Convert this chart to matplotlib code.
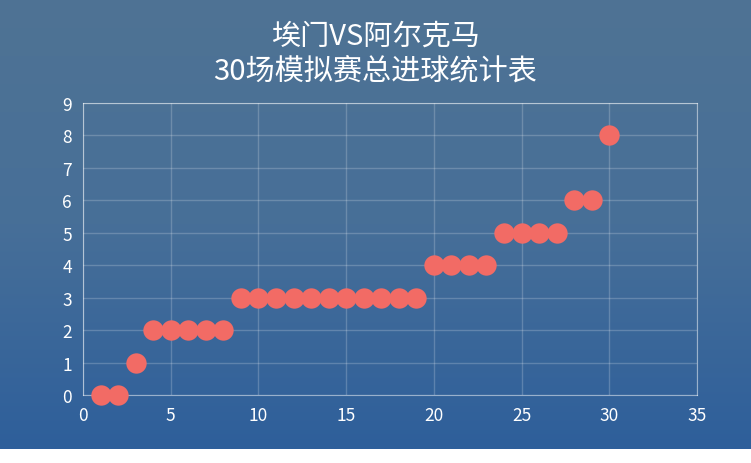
import numpy as np
import matplotlib
matplotlib.use("Agg")
import matplotlib.pyplot as plt
from matplotlib.colors import LinearSegmentedColormap

plt.rcParams['font.family'] = ['Noto Sans CJK SC', 'DejaVu Sans']

# match number and total goals
matches = list(range(1, 31))
goals = [0, 0, 1, 2, 2, 2, 2, 2, 3, 3, 3, 3, 3, 3, 3, 3, 3, 3, 3,
         4, 4, 4, 4, 5, 5, 5, 5, 6, 6, 8]
title = "埃门VS阿尔克马\n30场模拟赛总进球统计表"

W, H = 751, 464
fig = plt.figure(figsize=(W / 100, H / 100), dpi=100)
fig.patch.set_facecolor("white")

# gradient background (chart occupies top 450 px)
bg = fig.add_axes([0, (H - 450) / H, 1, 450 / H])
cmap = LinearSegmentedColormap.from_list("bg", ["#4f7394", "#476f98", "#2e5f9b"])
grad = np.linspace(0, 1, 256).reshape(-1, 1)
bg.imshow(grad, aspect="auto", cmap=cmap, extent=[0, 1, 0, 1], origin="upper")
bg.axis("off")

ax = fig.add_axes([83 / W, (H - 396) / H, 614 / W, 292 / H])
ax.set_facecolor("none")
ax.scatter(matches, goals, s=215, color="#f26b65", zorder=3, clip_on=False,
           linewidths=0)
ax.set_xlim(0, 35)
ax.set_ylim(0, 9)
ax.set_xticks(range(0, 36, 5))
ax.set_yticks(range(0, 10))
ax.grid(True, color="white", alpha=0.2, linewidth=1)
for s in ax.spines.values():
    s.set_color((1, 1, 1, 0.5))
ax.tick_params(colors="white", labelsize=12.5, length=0, pad=8)

fig.text(375 / W, 1 - 54 / H, title, ha="center", va="center",
         color="white", fontsize=21, linespacing=1.2)

fig.savefig("out.png", dpi=100)
